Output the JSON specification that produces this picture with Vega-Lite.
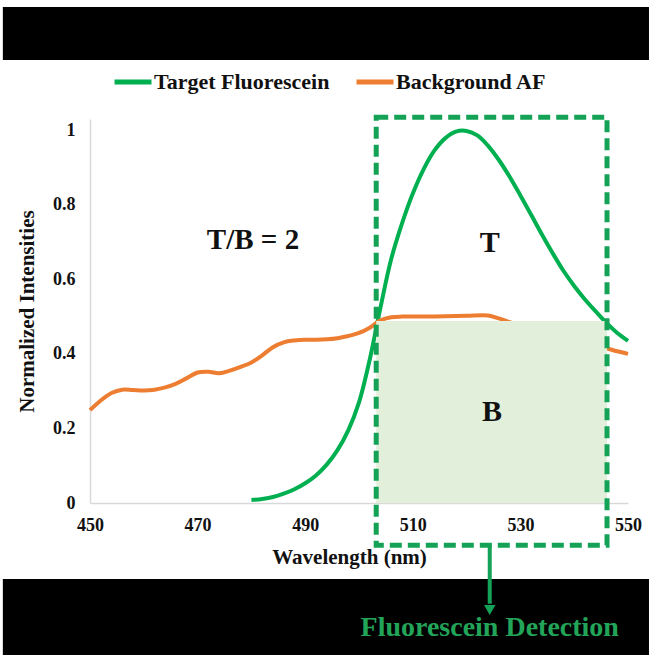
{
  "$schema": "https://vega.github.io/schema/vega-lite/v6.json",
  "width": 538,
  "height": 384,
  "autosize": {"type": "none"},
  "padding": {"left": 90, "top": 119, "right": 22, "bottom": 152},
  "background": "white",
  "config": {
    "view": {"stroke": null},
    "font": "Liberation Serif",
    "axis": {
      "labelFont": "Liberation Serif", "labelFontWeight": "bold", "labelFontSize": 18, "labelColor": "#111",
      "titleFont": "Liberation Serif", "titleFontWeight": "bold", "titleFontSize": 21, "titleColor": "#111",
      "domainColor": "#d9d9d9", "domainWidth": 1.5, "ticks": false, "grid": false, "labelFlush": false, "labelOverlap": false
    },
    "legend": {
      "labelFont": "Liberation Serif", "labelFontWeight": "bold", "labelFontSize": 22, "labelColor": "#111", "labelLimit": 400
    }
  },
  "datasets": {
    "one": [{"k": 1}],
    "spectra": [
      {"nm": 480, "value": 0.008, "series": "Target Fluorescein"},
      {"nm": 482, "value": 0.011, "series": "Target Fluorescein"},
      {"nm": 484, "value": 0.016, "series": "Target Fluorescein"},
      {"nm": 486, "value": 0.025, "series": "Target Fluorescein"},
      {"nm": 488, "value": 0.037, "series": "Target Fluorescein"},
      {"nm": 490, "value": 0.053, "series": "Target Fluorescein"},
      {"nm": 492, "value": 0.074, "series": "Target Fluorescein"},
      {"nm": 494, "value": 0.103, "series": "Target Fluorescein"},
      {"nm": 496, "value": 0.142, "series": "Target Fluorescein"},
      {"nm": 498, "value": 0.195, "series": "Target Fluorescein"},
      {"nm": 500, "value": 0.27, "series": "Target Fluorescein"},
      {"nm": 502, "value": 0.385, "series": "Target Fluorescein"},
      {"nm": 504, "value": 0.525, "series": "Target Fluorescein"},
      {"nm": 506, "value": 0.655, "series": "Target Fluorescein"},
      {"nm": 508, "value": 0.75, "series": "Target Fluorescein"},
      {"nm": 510, "value": 0.83, "series": "Target Fluorescein"},
      {"nm": 512, "value": 0.895, "series": "Target Fluorescein"},
      {"nm": 514, "value": 0.945, "series": "Target Fluorescein"},
      {"nm": 516, "value": 0.978, "series": "Target Fluorescein"},
      {"nm": 518, "value": 0.996, "series": "Target Fluorescein"},
      {"nm": 520, "value": 0.998, "series": "Target Fluorescein"},
      {"nm": 522, "value": 0.986, "series": "Target Fluorescein"},
      {"nm": 524, "value": 0.958, "series": "Target Fluorescein"},
      {"nm": 526, "value": 0.92, "series": "Target Fluorescein"},
      {"nm": 528, "value": 0.875, "series": "Target Fluorescein"},
      {"nm": 530, "value": 0.825, "series": "Target Fluorescein"},
      {"nm": 532, "value": 0.773, "series": "Target Fluorescein"},
      {"nm": 534, "value": 0.72, "series": "Target Fluorescein"},
      {"nm": 536, "value": 0.67, "series": "Target Fluorescein"},
      {"nm": 538, "value": 0.623, "series": "Target Fluorescein"},
      {"nm": 540, "value": 0.582, "series": "Target Fluorescein"},
      {"nm": 542, "value": 0.546, "series": "Target Fluorescein"},
      {"nm": 544, "value": 0.514, "series": "Target Fluorescein"},
      {"nm": 546, "value": 0.483, "series": "Target Fluorescein"},
      {"nm": 548, "value": 0.456, "series": "Target Fluorescein"},
      {"nm": 550, "value": 0.435, "series": "Target Fluorescein"},
      {"nm": 450, "value": 0.249, "series": "Background AF"},
      {"nm": 452, "value": 0.275, "series": "Background AF"},
      {"nm": 454, "value": 0.295, "series": "Background AF"},
      {"nm": 456, "value": 0.304, "series": "Background AF"},
      {"nm": 458, "value": 0.303, "series": "Background AF"},
      {"nm": 460, "value": 0.302, "series": "Background AF"},
      {"nm": 462, "value": 0.304, "series": "Background AF"},
      {"nm": 464, "value": 0.31, "series": "Background AF"},
      {"nm": 466, "value": 0.32, "series": "Background AF"},
      {"nm": 468, "value": 0.335, "series": "Background AF"},
      {"nm": 470, "value": 0.35, "series": "Background AF"},
      {"nm": 472, "value": 0.352, "series": "Background AF"},
      {"nm": 474, "value": 0.348, "series": "Background AF"},
      {"nm": 476, "value": 0.355, "series": "Background AF"},
      {"nm": 478, "value": 0.365, "series": "Background AF"},
      {"nm": 480, "value": 0.377, "series": "Background AF"},
      {"nm": 482, "value": 0.396, "series": "Background AF"},
      {"nm": 484, "value": 0.418, "series": "Background AF"},
      {"nm": 486, "value": 0.431, "series": "Background AF"},
      {"nm": 488, "value": 0.436, "series": "Background AF"},
      {"nm": 490, "value": 0.438, "series": "Background AF"},
      {"nm": 492, "value": 0.438, "series": "Background AF"},
      {"nm": 494, "value": 0.439, "series": "Background AF"},
      {"nm": 496, "value": 0.442, "series": "Background AF"},
      {"nm": 498, "value": 0.448, "series": "Background AF"},
      {"nm": 500, "value": 0.456, "series": "Background AF"},
      {"nm": 502, "value": 0.47, "series": "Background AF"},
      {"nm": 504, "value": 0.49, "series": "Background AF"},
      {"nm": 506, "value": 0.498, "series": "Background AF"},
      {"nm": 508, "value": 0.5, "series": "Background AF"},
      {"nm": 512, "value": 0.5, "series": "Background AF"},
      {"nm": 516, "value": 0.501, "series": "Background AF"},
      {"nm": 520, "value": 0.502, "series": "Background AF"},
      {"nm": 524, "value": 0.503, "series": "Background AF"},
      {"nm": 526, "value": 0.495, "series": "Background AF"},
      {"nm": 528, "value": 0.485, "series": "Background AF"},
      {"nm": 530, "value": 0.475, "series": "Background AF"},
      {"nm": 534, "value": 0.458, "series": "Background AF"},
      {"nm": 538, "value": 0.443, "series": "Background AF"},
      {"nm": 542, "value": 0.43, "series": "Background AF"},
      {"nm": 546, "value": 0.415, "series": "Background AF"},
      {"nm": 548, "value": 0.407, "series": "Background AF"},
      {"nm": 550, "value": 0.4, "series": "Background AF"}
    ]
  },
  "layer": [
    {
      "data": {"name": "one"},
      "mark": {"type": "rect", "color": "black"},
      "encoding": {
        "x": {"datum": 433.8, "type": "quantitative"},
        "x2": {"datum": 553.9},
        "y": {"datum": 1.3305, "type": "quantitative"},
        "y2": {"datum": 1.1883}
      }
    },
    {
      "data": {"name": "one"},
      "mark": {"type": "rect", "color": "black"},
      "encoding": {
        "x": {"datum": 433.8, "type": "quantitative"},
        "x2": {"datum": 553.9},
        "y": {"datum": -0.2039, "type": "quantitative"},
        "y2": {"datum": -0.41}
      }
    },
    {
      "data": {"name": "spectra"},
      "mark": {"type": "line", "strokeWidth": 4, "interpolate": "catmull-rom"},
      "encoding": {
        "x": {
          "field": "nm", "type": "quantitative",
          "scale": {"domain": [450, 550], "nice": false, "zero": false},
          "axis": {"title": "Wavelength (nm)", "values": [450, 470, 490, 510, 530, 550], "format": "d", "labelPadding": 13, "titlePadding": 12, "titleX": 259}
        },
        "y": {
          "field": "value", "type": "quantitative",
          "scale": {"domain": [0, 1.03], "nice": false},
          "axis": {"title": "Normalized Intensities", "values": [0, 0.2, 0.4, 0.6, 0.8, 1], "labelExpr": "toString(datum.value)", "labelPadding": 15, "titlePadding": 15}
        },
        "color": {
          "field": "series", "type": "nominal",
          "scale": {"domain": ["Target Fluorescein", "Background AF"], "range": ["#00b050", "#ed7d31"]},
          "legend": {
            "title": null, "orient": "none", "legendX": 22, "legendY": -58, "direction": "horizontal",
            "symbolType": "stroke", "symbolSize": 1369, "symbolStrokeWidth": 5, "columnPadding": 16, "labelOffset": 0
          }
        }
      }
    },
    {
      "data": {"name": "one"},
      "mark": {"type": "rect", "color": "#e2efda"},
      "encoding": {
        "x": {"datum": 503.2, "type": "quantitative"},
        "x2": {"datum": 546.1},
        "y": {"datum": 0, "type": "quantitative"},
        "y2": {"datum": 0.488}
      }
    },
    {
      "data": {"name": "one"},
      "mark": {"type": "rect", "fill": null, "fillOpacity": 0, "stroke": "#14a257", "strokeWidth": 5, "strokeDash": [12, 6]},
      "encoding": {
        "x": {"datum": 503.2, "type": "quantitative"},
        "x2": {"datum": 546.1},
        "y": {"datum": 1.035, "type": "quantitative"},
        "y2": {"datum": -0.113}
      }
    },
    {
      "data": {"name": "one"},
      "mark": {"type": "rule", "color": "#14a257", "strokeWidth": 4},
      "encoding": {
        "x": {"datum": 524.3, "type": "quantitative"},
        "y": {"datum": -0.113, "type": "quantitative"},
        "y2": {"datum": -0.27}
      }
    },
    {
      "data": {"name": "one"},
      "mark": {"type": "point", "shape": "triangle-down", "filled": true, "color": "#14a257", "size": 130, "opacity": 1},
      "encoding": {
        "x": {"datum": 524.3, "type": "quantitative"},
        "y": {"datum": -0.287, "type": "quantitative"}
      }
    },
    {
      "data": {"name": "one"},
      "mark": {"type": "text", "font": "Liberation Serif", "fontWeight": "bold", "fontSize": 29, "color": "#111", "align": "center", "baseline": "middle"},
      "encoding": {
        "x": {"datum": 480.3, "type": "quantitative"},
        "y": {"datum": 0.705, "type": "quantitative"},
        "text": {"value": "T/B = 2"}
      }
    },
    {
      "data": {"name": "one"},
      "mark": {"type": "text", "font": "Liberation Serif", "fontWeight": "bold", "fontSize": 30, "color": "#111", "align": "center", "baseline": "middle"},
      "encoding": {
        "x": {"datum": 524.3, "type": "quantitative"},
        "y": {"datum": 0.697, "type": "quantitative"},
        "text": {"value": "T"}
      }
    },
    {
      "data": {"name": "one"},
      "mark": {"type": "text", "font": "Liberation Serif", "fontWeight": "bold", "fontSize": 30, "color": "#111", "align": "center", "baseline": "middle"},
      "encoding": {
        "x": {"datum": 524.7, "type": "quantitative"},
        "y": {"datum": 0.244, "type": "quantitative"},
        "text": {"value": "B"}
      }
    },
    {
      "data": {"name": "one"},
      "mark": {"type": "text", "font": "Liberation Serif", "fontWeight": "bold", "fontSize": 28, "color": "#22a559", "align": "center", "baseline": "middle"},
      "encoding": {
        "x": {"datum": 524.3, "type": "quantitative"},
        "y": {"datum": -0.335, "type": "quantitative"},
        "text": {"value": "Fluorescein Detection"}
      }
    }
  ]
}
